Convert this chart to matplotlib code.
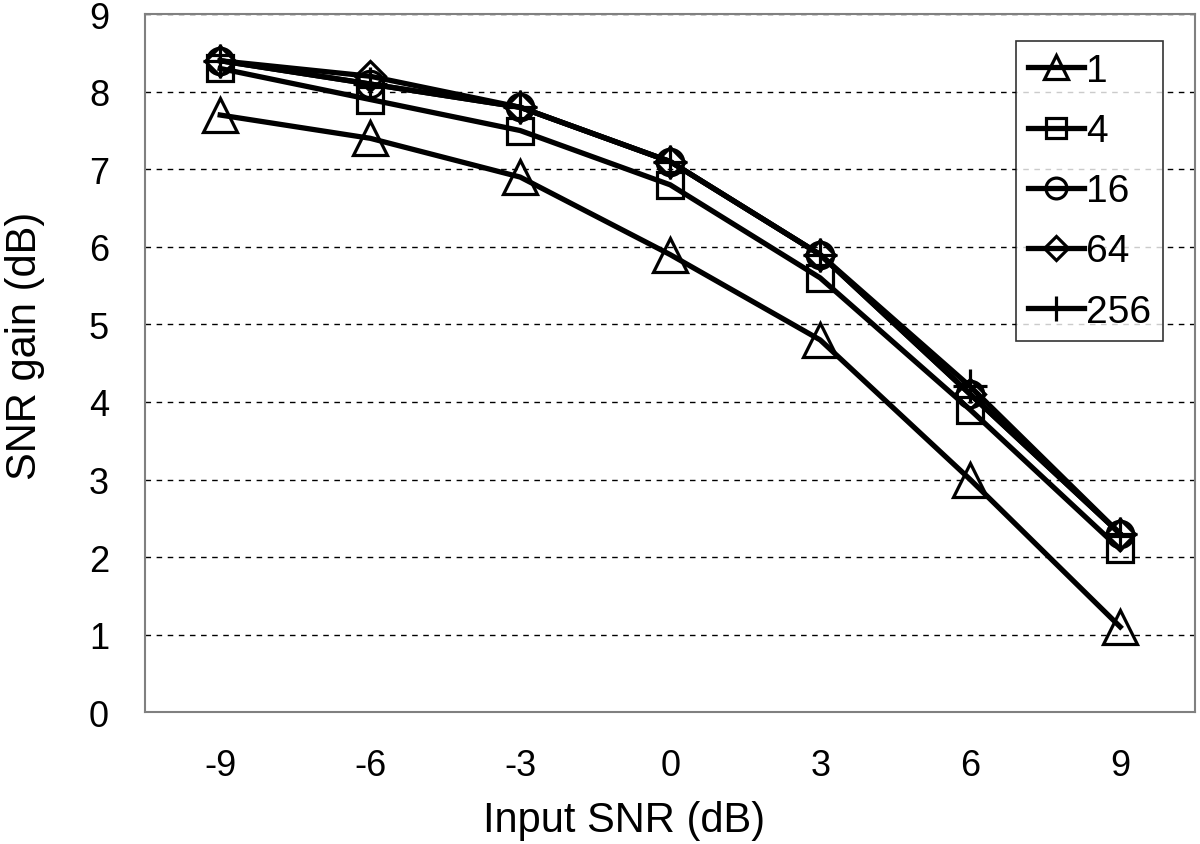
import matplotlib
matplotlib.use("Agg")
from matplotlib import pyplot

input_snr = ["-9", "-6", "-3", "0", "3", "6", "9"]
series_names = ["1", "4", "16", "64", "256"]
gain_1 = [7.7, 7.4, 6.9, 5.9, 4.8, 3.0, 1.1]
gain_4 = [8.3, 7.9, 7.5, 6.8, 5.6, 3.9, 2.1]
gain_16 = [8.4, 8.1, 7.8, 7.1, 5.9, 4.1, 2.3]
gain_64 = [8.4, 8.2, 7.8, 7.1, 5.9, 4.1, 2.3]
gain_256 = [8.4, 8.1, 7.8, 7.1, 5.9, 4.2, 2.3]

pyplot.rcParams['font.family'] = ['Liberation Sans', 'DejaVu Sans']


def main() -> None:
    fig = pyplot.figure(figsize=(12, 8.45), dpi=100)
    ax = fig.add_axes([0.121, 0.156, 0.875, 0.826])

    x = list(range(len(input_snr)))
    styles = [("^", 24), ("s", 19), ("o", 19), ("D", 15), ("+", 24)]
    leg_sizes = [17, 15, 15, 12, 18]
    all_gains = [gain_1, gain_4, gain_16, gain_64, gain_256]
    for name, gains, (marker, ms) in zip(series_names, all_gains, styles):
        ax.plot(x, gains, color="black", linewidth=3.8, marker=marker,
                markersize=ms, markerfacecolor="none", markeredgecolor="black",
                markeredgewidth=2.3, label=name, zorder=3)

    ax.set_xlim(-0.5, len(input_snr) - 0.5)
    ax.set_ylim(0, 9)
    ax.set_xticks(x)
    ax.set_xticklabels(input_snr)
    ax.set_yticks(range(0, 10))
    ax.tick_params(axis="both", length=0, labelsize=26)
    ax.tick_params(axis="x", pad=26)
    ax.tick_params(axis="y", pad=26)
    ax.yaxis.grid(True, linestyle=(0, (4, 4)), color="black", linewidth=1)
    ax.set_axisbelow(True)
    for s in ax.spines.values():
        s.set_color("#808080")
        s.set_linewidth(1.5)

    ax.set_xlabel("Input SNR (dB)", fontsize=30)
    ax.set_ylabel("SNR gain (dB)", fontsize=30)
    ax.xaxis.set_label_coords(0.456, -0.155)
    ax.yaxis.set_label_coords(-0.114, 0.526)
    ax.xaxis.label.set_va("center")
    ax.yaxis.label.set_va("center")

    leg = ax.legend(loc="upper right", bbox_to_anchor=(0.969, 0.961),
                    fontsize=28, frameon=True, fancybox=False,
                    handlelength=1.45, handletextpad=0.05, labelspacing=0.62,
                    borderpad=0.3, borderaxespad=0)
    leg.get_frame().set_edgecolor("black")
    leg.get_frame().set_linewidth(1.2)
    for h, sz in zip(leg.legend_handles, leg_sizes):
        h.set_markersize(sz)

    pyplot.savefig("out.png", dpi=100)


if __name__ == "__main__":
    main()
